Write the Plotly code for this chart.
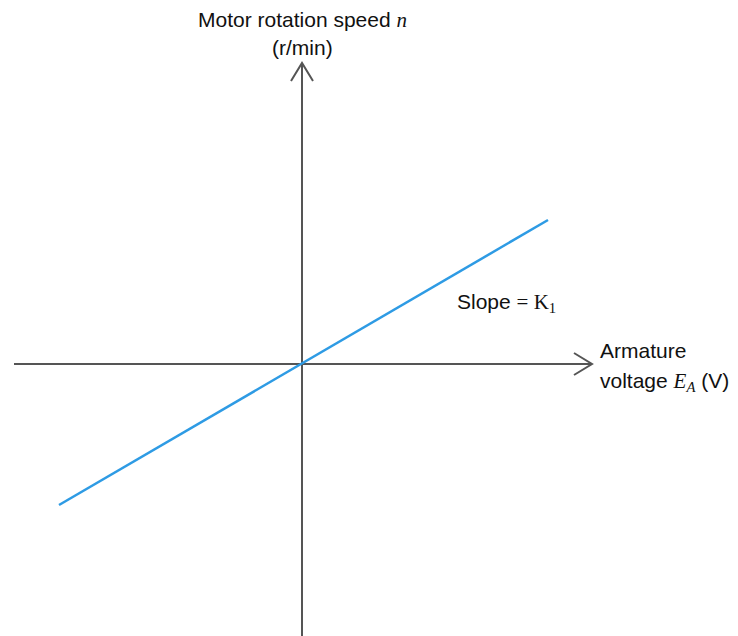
import plotly.graph_objects as go

# 数据坐标：原点为两轴交点，1 单位约 100 像素
line_x = [-2.43, 2.46]
line_y = [-1.41, 1.44]

x_axis_span = [-2.88, 2.90]
y_axis_span = [-2.80, 3.01]

AXIS_COLOR = "#555555"
LINE_COLOR = "#2E9BE4"
TEXT_FONT = "Liberation Sans, Arial, sans-serif"
MATH = "font-family:'Liberation Serif', 'DejaVu Serif', serif"

# 箭头尺寸（数据单位）
ARROW_BACK = 0.18
ARROW_HALF = 0.11


def _axis_trace(xs, ys):
    return go.Scatter(x=xs, y=ys, mode="lines", hoverinfo="skip",
                      line=dict(color=AXIS_COLOR, width=2), showlegend=False)


fig = go.Figure()

# x 轴与箭头
fig.add_trace(_axis_trace(x_axis_span, [0, 0]))
tip = x_axis_span[1]
fig.add_trace(_axis_trace([tip - ARROW_BACK, tip, tip - ARROW_BACK],
                          [ARROW_HALF, 0, -ARROW_HALF]))

# y 轴与箭头
fig.add_trace(_axis_trace([0, 0], y_axis_span))
tip = y_axis_span[1]
fig.add_trace(_axis_trace([-ARROW_HALF, 0, ARROW_HALF],
                          [tip - ARROW_BACK, tip, tip - ARROW_BACK]))

# 特性直线
fig.add_trace(go.Scatter(x=line_x, y=line_y, mode="lines",
                         line=dict(color=LINE_COLOR, width=2.5), showlegend=False))

ann_font = dict(family=TEXT_FONT, size=21, color="#111111")
fig.add_annotation(x=0, y=3.44, xref="x", yref="y", showarrow=False,
                   text=f"Motor rotation speed <span style=\"{MATH}\"><i>n</i></span>",
                   xanchor="center", yanchor="middle", font=ann_font)
fig.add_annotation(x=0, y=3.17, xref="x", yref="y", showarrow=False,
                   text="(r/min)", xanchor="center", yanchor="middle", font=ann_font)
fig.add_annotation(x=2.96, y=0.14, xref="x", yref="y", showarrow=False,
                   text="Armature", xanchor="left", yanchor="middle", font=ann_font)
fig.add_annotation(x=2.96, y=-0.18, xref="x", yref="y", showarrow=False,
                   text=f"voltage <span style=\"{MATH}\"><i>E</i><sub><i>A</i></sub></span> (V)",
                   xanchor="left", yanchor="middle", font=ann_font)
fig.add_annotation(x=1.53, y=0.61, xref="x", yref="y", showarrow=False,
                   text=f"Slope <span style=\"{MATH}\">= K<sub>1</sub></span>",
                   xanchor="left", yanchor="middle", font=ann_font)

# 页面 body 有 8px 边距，坐标范围相应偏移
fig.update_layout(
    width=738, height=636,
    margin=dict(l=0, r=0, t=0, b=0),
    paper_bgcolor="white", plot_bgcolor="white",
    xaxis=dict(range=[-2.94, 4.44], visible=False, fixedrange=True),
    yaxis=dict(range=[-2.80, 3.56], visible=False, fixedrange=True),
    showlegend=False,
)

fig.write_html("out.html")
